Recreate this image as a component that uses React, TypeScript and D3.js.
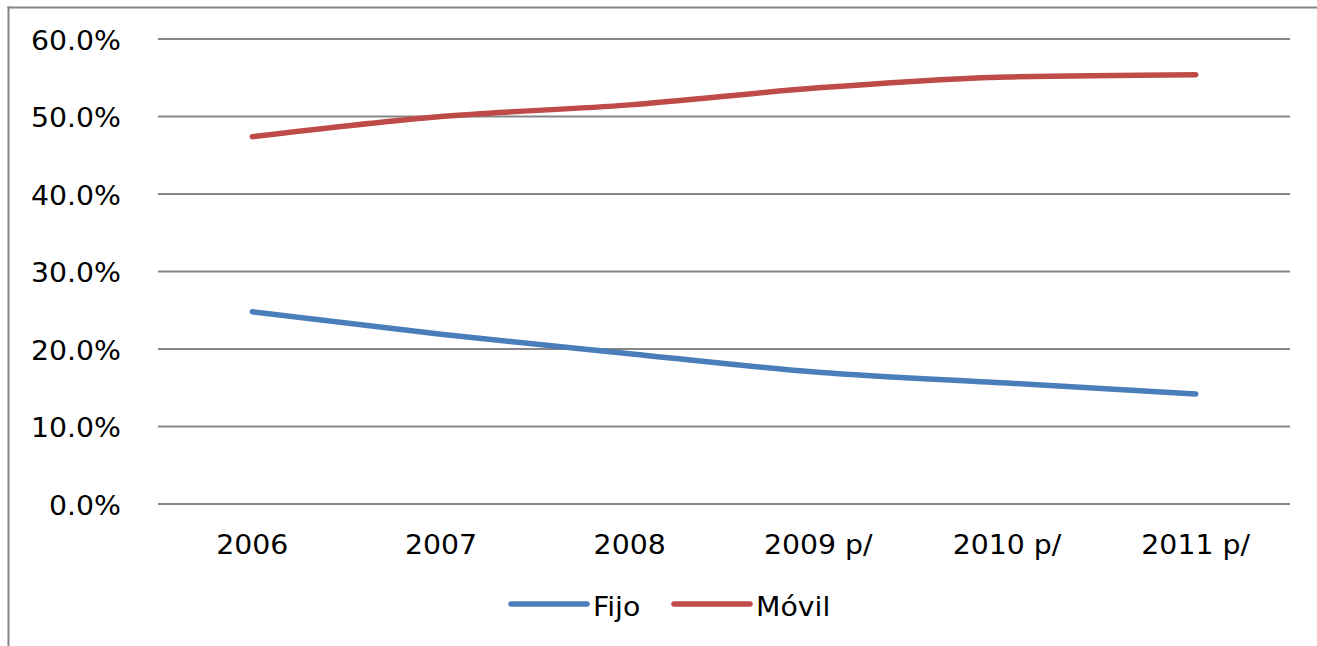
import React from "react";
import * as d3 from "d3";

const categories = ["2006", "2007", "2008", "2009 p/", "2010 p/", "2011 p/"];
const fijo = [24.8, 21.9, 19.4, 17.0, 15.6, 14.2];
const movil = [47.4, 50.0, 51.5, 53.7, 55.1, 55.4];
const yTicks = [0, 10, 20, 30, 40, 50, 60];
const seriesNames = ["Fijo", "Móvil"];
const seriesColors = ["#4a7ebb", "#be4b48"];

export default function App() {
  const W = 1317, H = 646;
  const left = 158, right = 1290, top = 39, bottom = 504;
  const x = d3.scaleBand<string>().domain(categories).range([left, right]);
  const y = d3.scaleLinear().domain([0, 60]).range([bottom, top]);
  const line = d3
    .line<number>()
    .x((_, i) => (x(categories[i]) as number) + x.bandwidth() / 2)
    .y((d) => y(d))
    .curve(d3.curveMonotoneX);
  const data = [fijo, movil];
  const font = "'DejaVu Sans', Verdana, sans-serif";
  const fs = 26;
  const sx = 1.09;
  const T = (props: { x: number; y: number; anchor: string; children: React.ReactNode }) => (
    <text
      transform={`translate(${props.x},${props.y}) scale(${sx},1)`}
      textAnchor={props.anchor}
      fontFamily={font}
      fontSize={fs}
      fill="#000"
    >
      {props.children}
    </text>
  );
  return (
    <svg width={W} height={H} style={{ position: "absolute", left: 0, top: 0 }}>
      <rect x={0} y={0} width={W} height={H} fill="#fff" />
      <line x1={7.5} x2={W} y1={7.5} y2={7.5} stroke="#868686" strokeWidth={2} />
      <line x1={8.5} x2={8.5} y1={6.5} y2={H} stroke="#868686" strokeWidth={2} />
      {yTicks.map((t) => (
        <g key={t}>
          <line x1={left} x2={right} y1={y(t)} y2={y(t)} stroke="#868686" strokeWidth={2} />
          <T x={121} y={y(t) + 10.5} anchor="end">{t.toFixed(1) + "%"}</T>
        </g>
      ))}
      {categories.map((c) => (
        <T key={c} x={(x(c) as number) + x.bandwidth() / 2} y={554} anchor="middle">{c}</T>
      ))}
      {data.map((s, i) => (
        <path key={i} d={line(s) || ""} fill="none" stroke={seriesColors[i]} strokeWidth={5.5} strokeLinecap="round" strokeLinejoin="round" />
      ))}
      {seriesNames.map((n, i) => {
        const lx = i === 0 ? 511 : 674;
        return (
          <g key={n}>
            <line x1={lx} x2={lx + 76} y1={604} y2={604} stroke={seriesColors[i]} strokeWidth={5.5} strokeLinecap="round" />
            <T x={lx + 82} y={616} anchor="start">{n}</T>
          </g>
        );
      })}
    </svg>
  );
}
